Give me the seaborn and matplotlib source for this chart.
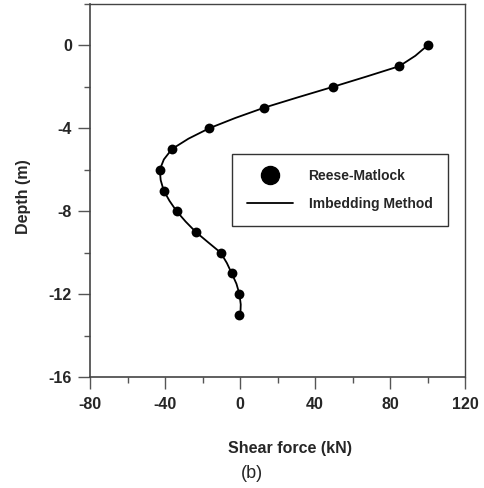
import matplotlib
matplotlib.use("Agg")
import matplotlib.pyplot as plt
import seaborn as sns
import pandas as pd
from matplotlib.ticker import MultipleLocator
from matplotlib.lines import Line2D

# Reese-Matlock points
rm_depth = [0, -1, -2, -3, -4, -5, -6, -7, -8, -9, -10, -11, -12, -13]
rm_shear = [100, 85, 49.5, 13, -16.5, -36.3, -42.8, -40.7, -33.8, -23.6, -10.3, -4.4, -0.3, -0.3]

# Imbedding method curve
im_depth = [0, -0.5, -1, -1.5, -2, -2.5, -3, -3.5, -4, -4.5, -5, -5.5, -6, -6.5,
            -7, -7.5, -8, -8.5, -9, -9.5, -10, -10.5, -11, -11.5, -12, -12.5, -13]
im_shear = [100, 93.5, 85, 67.5, 49.5, 31, 13, -2.5, -16.5, -27.5, -36.3, -40.6, -42.8, -42.3,
            -40.7, -37.6, -33.8, -29, -23.6, -17, -10.3, -7, -4.4, -1.9, -0.3, 0.4, 0.2]

sns.set_style("ticks")
plt.rcParams['font.family'] = ['Liberation Sans', 'DejaVu Sans']
plt.rcParams['axes.unicode_minus'] = False

fig = plt.figure(figsize=(4.84, 4.88), dpi=100)
ax = fig.add_axes([90/484, 1 - 377/488, 375/484, 373/488])

df_rm = pd.DataFrame({"shear": rm_shear, "depth": rm_depth})
df_im = pd.DataFrame({"shear": im_shear, "depth": im_depth})

sns.lineplot(data=df_im, x="shear", y="depth", sort=False, estimator=None,
             color="black", linewidth=1.3, ax=ax)
sns.scatterplot(data=df_rm, x="shear", y="depth", color="black", s=50,
                edgecolor="black", linewidth=0, ax=ax, zorder=3)

ax.set_xlim(-80, 120)
ax.set_ylim(-16, 2)
ax.xaxis.set_major_locator(MultipleLocator(40))
ax.xaxis.set_minor_locator(MultipleLocator(20))
ax.yaxis.set_major_locator(MultipleLocator(4))
ax.yaxis.set_minor_locator(MultipleLocator(2))
ax.set_yticks([0, -4, -8, -12, -16])
ax.tick_params(axis='both', which='major', length=8.5, width=1.0, labelsize=11.5, color='#555555')
ax.tick_params(axis='x', which='major', pad=6)
ax.tick_params(axis='y', which='major', pad=4.5)
ax.tick_params(axis='both', which='minor', length=4, width=1.0, color='#555555')
for lab in ax.get_xticklabels() + ax.get_yticklabels():
    lab.set_fontweight('bold')
for s in ['top', 'right']:
    ax.spines[s].set_visible(True)
    ax.spines[s].set_color('#444444')
    ax.spines[s].set_linewidth(1.0)
for s in ['left', 'bottom']:
    ax.spines[s].set_color('#444444')
    ax.spines[s].set_linewidth(1.2)

ax.set_xlabel("")
ax.set_ylabel("")
fig.text(290/484, 1 - 448/488, "Shear force (kN)", ha='center', va='center',
         fontsize=11.5, fontweight='bold')
fig.text(252/484, 1 - 474/488, "(b)", ha='center', va='center', fontsize=13)
fig.text(24/484, 1 - 197/488, "Depth (m)", ha='center', va='center', rotation=90,
         fontsize=11.5, fontweight='bold')

handles = [Line2D([], [], marker='o', color='black', linestyle='none', markersize=13),
           Line2D([], [], color='black', linewidth=1.3)]
leg = ax.legend(handles, ["Reese-Matlock", "Imbedding Method"],
                loc='upper left', bbox_to_anchor=(0.379, 0.598), frameon=True,
                fancybox=False, edgecolor='#333333', framealpha=1,
                prop={'weight': 'bold', 'size': 10}, handlelength=3.3,
                borderpad=1.1, labelspacing=1.0, handletextpad=1.1, borderaxespad=0)
leg.get_frame().set_linewidth(1.0)
fig.savefig("out.png", dpi=100)
